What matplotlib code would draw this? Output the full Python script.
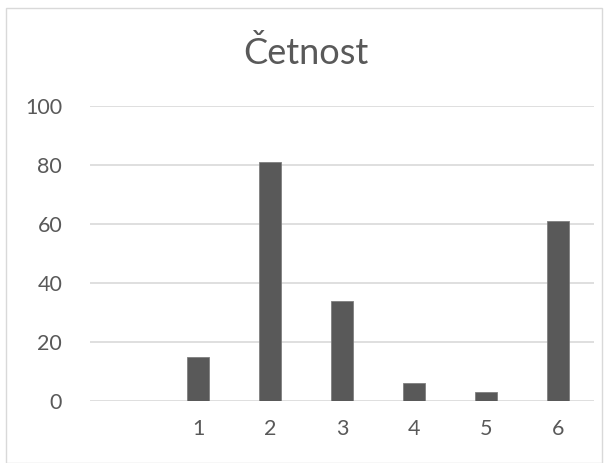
import matplotlib
matplotlib.use("Agg")
import matplotlib.pyplot as plt
from matplotlib.patches import Rectangle

categories = ["", "1", "2", "3", "4", "5", "6"]
values = [0, 15, 81, 34, 6, 3, 61]
yticks = [0, 20, 40, 60, 80, 100]
title = "Četnost"

plt.rcParams['font.family'] = ['Lato', 'DejaVu Sans']
W, H = 612, 463
fig = plt.figure(figsize=(W/100, H/100), dpi=100)
fig.patch.set_facecolor("white")
fig.patches.append(Rectangle((5.5/W, 0), (602-5.5)/W, 1 - 7.5/H, transform=fig.transFigure,
                             fill=False, edgecolor="#d9d9d9", linewidth=1.0))

ax = fig.add_axes([90/W, 1-401/H, (594-90)/W, (401-106)/H])
x = list(range(len(categories)))
ax.bar(x, values, width=0.31, color="#595959", edgecolor="#7f7f7f", linewidth=0.6, zorder=3)
ax.set_xlim(-0.5, len(categories)-0.5)
ax.set_ylim(0, 100)
ax.set_yticks(yticks)
ax.set_yticklabels([str(v) for v in yticks])
ax.set_xticks(x)
ax.set_xticklabels(categories)
ax.yaxis.grid(True, color="#d9d9d9", linewidth=1.2, zorder=0)
ax.set_axisbelow(True)
for s in ax.spines.values():
    s.set_visible(False)
ax.tick_params(axis='both', length=0, colors="#595959", labelsize=15.5)
ax.tick_params(axis='y', pad=20)
ax.tick_params(axis='x', pad=13)
fig.text(0.5, 1-53/H, title, ha='center', va='center', fontsize=26, color="#595959")
fig.savefig("out.png", dpi=100)
